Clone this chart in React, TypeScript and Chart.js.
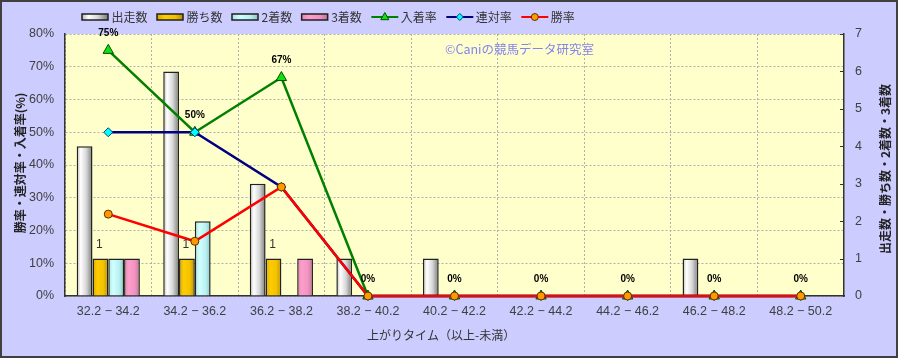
import React, { useEffect, useRef } from 'react';
import { Chart, registerables } from 'chart.js';

Chart.register(...registerables);

// ---- data ----
const categories = [
  '32.2 − 34.2',
  '34.2 − 36.2',
  '36.2 − 38.2',
  '38.2 − 40.2',
  '40.2 − 42.2',
  '42.2 − 44.2',
  '44.2 − 46.2',
  '46.2 − 48.2',
  '48.2 − 50.2',
];
const runs = [4, 6, 3, 1, 1, 0, 0, 1, 0];
const wins = [1, 1, 1, 0, 0, 0, 0, 0, 0];
const seconds = [1, 2, 0, 0, 0, 0, 0, 0, 0];
const thirds = [1, 0, 1, 0, 0, 0, 0, 0, 0];
const placeRate = [75, 50, 66.7, 0, 0, 0, 0, 0, 0];
const quinellaRate = [50, 50, 33.3, 0, 0, 0, 0, 0, 0];
const winRate = [25, 16.7, 33.3, 0, 0, 0, 0, 0, 0];

const leftTitle = '勝率・連対率・入着率(%)';
const rightTitle = '出走数・勝ち数・2着数・3着数';
const xTitle = '上がりタイム（以上-未満）';
const watermark = '©Caniの競馬データ研究室';

const FONT_CJK = "'Noto Sans CJK JP', sans-serif";
const FONT_NUM = "'Liberation Sans Narrow', 'Liberation Sans', 'Noto Sans CJK JP', sans-serif";

const barStops: Record<string, [number, string][]> = {
  '出走数': [[0, '#b8b8b8'], [0.25, '#ffffff'], [0.6, '#d8d8d8'], [1, '#7a7a7a']],
  '勝ち数': [[0, '#d8a800'], [0.3, '#ffcc00'], [0.7, '#f2c200'], [1, '#b88c00']],
  '2着数': [[0, '#a8e4e4'], [0.3, '#d0ffff'], [0.7, '#b8f0f0'], [1, '#88c4c4']],
  '3着数': [[0, '#e088b4'], [0.3, '#ff9dcc'], [0.7, '#f092c0'], [1, '#c07098']],
};

function grad(ctx: CanvasRenderingContext2D, x0: number, w: number, stops: [number, string][]) {
  const g = ctx.createLinearGradient(x0, 0, x0 + w, 0);
  stops.forEach(([o, c]) => g.addColorStop(o, c));
  return g;
}

function drawMarker(ctx: CanvasRenderingContext2D, style: string, x: number, y: number, r: number, fill: string, stroke: string) {
  ctx.beginPath();
  if (style === 'triangle') {
    ctx.moveTo(x, y - r);
    ctx.lineTo(x + r * 0.9, y + r * 0.6);
    ctx.lineTo(x - r * 0.9, y + r * 0.6);
    ctx.closePath();
  } else if (style === 'rectRot') {
    ctx.moveTo(x, y - r);
    ctx.lineTo(x + r, y);
    ctx.lineTo(x, y + r);
    ctx.lineTo(x - r, y);
    ctx.closePath();
  } else {
    ctx.arc(x, y, r, 0, Math.PI * 2);
  }
  ctx.fillStyle = fill;
  ctx.fill();
  ctx.lineWidth = 1;
  ctx.strokeStyle = stroke;
  ctx.stroke();
}

const decorPlugin = {
  id: 'decor',
  beforeDraw(chart: any) {
    const { ctx, chartArea: a, width, height } = chart;
    ctx.save();
    ctx.fillStyle = '#ccccff';
    ctx.fillRect(0, 0, width, height);
    ctx.fillStyle = '#ffffcc';
    ctx.fillRect(a.left, a.top, a.right - a.left, a.bottom - a.top);
    ctx.restore();
  },
  beforeDatasetsDraw(chart: any) {
    const { ctx, chartArea: a } = chart;
    ctx.save();
    ctx.font = `12.5px ${FONT_CJK}`;
    ctx.fillStyle = '#8484f0';
    ctx.textBaseline = 'middle';
    ctx.textAlign = 'left';
    ctx.fillText(watermark, 445, 49);
    // inner tick marks on right axis
    const y1 = chart.scales.y1;
    ctx.strokeStyle = '#333';
    ctx.lineWidth = 1;
    for (let v = 1; v <= 7; v++) {
      const py = Math.round(y1.getPixelForValue(v)) + 0.5;
      ctx.beginPath();
      ctx.moveTo(a.right - 4, py);
      ctx.lineTo(a.right, py);
      ctx.stroke();
    }
    ctx.restore();
    chart.data.datasets.forEach((ds: any, i: number) => {
      const stops = barStops[ds.label];
      if (!stops) return;
      const meta = chart.getDatasetMeta(i);
      meta.data.forEach((el: any) => {
        const w = el.width;
        const x0 = el.x - w / 2;
        try {
          el.options.backgroundColor = grad(ctx, x0, w, stops);
        } catch (e) {}
      });
    });
  },
  afterDatasetsDraw(chart: any) {
    const { ctx } = chart;
    ctx.save();
    ctx.textAlign = 'center';
    ctx.textBaseline = 'middle';
    // place rate labels
    const pm = chart.getDatasetMeta(4);
    ctx.font = `bold 10px 'Liberation Sans', sans-serif`;
    ctx.fillStyle = '#000';
    pm.data.forEach((p: any, i: number) => {
      ctx.fillText(Math.round(placeRate[i]) + '%', p.x, p.y - 17);
    });
    // win count labels
    const wm = chart.getDatasetMeta(1);
    ctx.font = `12px ${FONT_NUM}`;
    ctx.fillStyle = '#333';
    wm.data.forEach((el: any, i: number) => {
      if (wins[i] > 0) ctx.fillText(String(wins[i]), el.x - 1, el.y - 13.5);
    });
    ctx.restore();
  },
  afterDraw(chart: any) {
    const { ctx, chartArea: a, width, height } = chart;
    ctx.save();
    // legend
    ctx.font = `12px ${FONT_CJK}`;
    ctx.textBaseline = 'middle';
    ctx.textAlign = 'left';
    let x = 82;
    const ly = 17;
    chart.data.datasets.forEach((ds: any) => {
      const stops = barStops[ds.label];
      if (stops) {
        ctx.fillStyle = grad(ctx, x, 26, stops);
        ctx.fillRect(x, ly - 3, 26, 6);
        ctx.strokeStyle = '#202020';
        ctx.lineWidth = 1.5;
        ctx.strokeRect(x, ly - 3, 26, 6);
      } else {
        ctx.strokeStyle = ds.borderColor;
        ctx.lineWidth = 2;
        ctx.beginPath();
        ctx.moveTo(x, ly);
        ctx.lineTo(x + 27, ly);
        ctx.stroke();
        drawMarker(ctx, ds.pointStyle, x + 13.5, ly, ds.pointStyle === 'triangle' ? 4.5 : 3.5, ds.pointBackgroundColor, ds.pointBorderColor);
      }
      ctx.fillStyle = '#333';
      ctx.fillText(ds.label, x + 29.5, ly);
      x += 29.5 + ctx.measureText(ds.label).width + 9.5;
    });
    // axis titles
    ctx.font = `bold 12px ${FONT_CJK}`;
    ctx.fillStyle = '#222';
    ctx.textAlign = 'center';
    const cy = (a.top + a.bottom) / 2;
    ctx.save();
    ctx.translate(20, cy - 2);
    ctx.rotate(-Math.PI / 2);
    ctx.fillText(leftTitle, 0, 0);
    ctx.restore();
    ctx.save();
    ctx.translate(885, cy + 4);
    ctx.rotate(-Math.PI / 2);
    ctx.fillText(rightTitle, 0, 0);
    ctx.restore();
    ctx.font = `12px ${FONT_CJK}`;
    ctx.fillStyle = '#333';
    ctx.textAlign = 'left';
    ctx.fillText(xTitle, 367, 335);
    // outer border
    ctx.strokeStyle = '#404040';
    ctx.lineWidth = 2;
    ctx.strokeRect(1, 1, width - 2, height - 2);
    ctx.restore();
  },
};

export default function App() {
  const ref = useRef<HTMLCanvasElement>(null);
  useEffect(() => {
    const canvas = ref.current;
    if (!canvas) return;
    const barBase = {
      type: 'bar' as const,
      yAxisID: 'y1',
      borderColor: '#222',
      borderWidth: 1.5,
      order: 10,
      categoryPercentage: 0.73,
      barPercentage: 1,
    };
    const chart = new Chart(canvas, {
      type: 'bar',
      data: {
        labels: categories,
        datasets: [
          { ...barBase, label: '出走数', data: runs, backgroundColor: () => '#e0e0e0' },
          { ...barBase, label: '勝ち数', data: wins, backgroundColor: () => '#ffcc00' },
          { ...barBase, label: '2着数', data: seconds, backgroundColor: () => '#c0f8f8' },
          { ...barBase, label: '3着数', data: thirds, backgroundColor: () => '#f898c8' },
          {
            type: 'line', label: '入着率', data: placeRate, yAxisID: 'y',
            borderColor: '#008000', borderWidth: 2.5, tension: 0,
            pointStyle: 'triangle', pointRadius: 6, pointBackgroundColor: '#10e010',
            pointBorderColor: '#005000', pointBorderWidth: 1, order: 3, clip: false,
          } as any,
          {
            type: 'line', label: '連対率', data: quinellaRate, yAxisID: 'y',
            borderColor: '#000080', borderWidth: 2.5, tension: 0,
            pointStyle: 'rectRot', pointRadius: 4.5, pointBackgroundColor: '#00ffff',
            pointBorderColor: '#004080', pointBorderWidth: 1, order: 2, clip: false,
          } as any,
          {
            type: 'line', label: '勝率', data: winRate, yAxisID: 'y',
            borderColor: '#ff0000', borderWidth: 2.5, tension: 0,
            pointStyle: 'circle', pointRadius: 4, pointBackgroundColor: '#ff9900',
            pointBorderColor: '#603000', pointBorderWidth: 1, order: 1, clip: false,
          } as any,
        ],
      },
      options: {
        responsive: false,
        animation: false,
        events: [],
        layout: { padding: { top: 34, left: 0, right: 0, bottom: 0 } },
        plugins: {
          legend: { display: false },
          tooltip: { enabled: false },
          title: { display: false },
        },
        scales: {
          x: {
            type: 'category',
            afterFit: (s: any) => { s.height = 62; },
            grid: { color: '#b0b0b0', lineWidth: 1, drawTicks: false },
            border: { display: true, color: '#333', width: 1.5, dash: [2, 2] },
            ticks: { color: '#404040', font: { family: FONT_NUM, size: 12.5 }, padding: 8, maxRotation: 0, autoSkip: false },
          },
          y: {
            type: 'linear',
            position: 'left',
            min: 0,
            max: 80,
            afterFit: (s: any) => { s.width = 65; },
            grid: { color: '#b0b0b0', lineWidth: 1, drawTicks: false },
            border: { display: true, color: '#333', width: 1.5, dash: [2, 2] },
            ticks: { stepSize: 10, color: '#404040', font: { family: FONT_NUM, size: 12.5 }, padding: 11, callback: (v: any) => v + '%' },
          },
          y1: {
            type: 'linear',
            position: 'right',
            min: 0,
            max: 7,
            afterFit: (s: any) => { s.width = 54; },
            grid: { drawOnChartArea: false, drawTicks: false },
            border: { display: true, color: '#333', width: 1.5 },
            ticks: { stepSize: 1, color: '#404040', font: { family: FONT_NUM, size: 12.5 }, padding: 11 },
          },
        },
      } as any,
      plugins: [decorPlugin],
    });
    return () => chart.destroy();
  }, []);
  return (
    <div style={{ position: 'fixed', left: 0, top: 0, width: 898, height: 358 }}>
      <canvas ref={ref} width={898} height={358} style={{ display: 'block', width: 898, height: 358 }} />
    </div>
  );
}
